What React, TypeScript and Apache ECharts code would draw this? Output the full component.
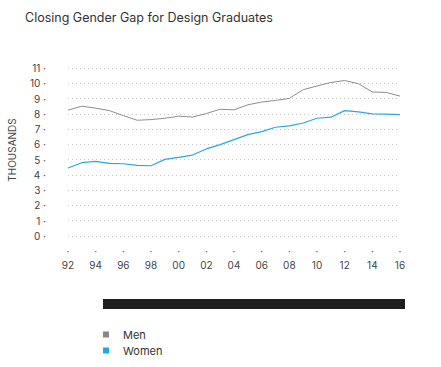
import React, { useEffect, useRef } from "react";
import * as echarts from "echarts";

const years = ["92","93","94","95","96","97","98","99","00","01","02","03","04","05","06","07","08","09","10","11","12","13","14","15","16"];
const men = [8.24, 8.5, 8.37, 8.21, 7.88, 7.58, 7.62, 7.71, 7.84, 7.79, 8.02, 8.3, 8.26, 8.59, 8.77, 8.88, 9.01, 9.58, 9.82, 10.05, 10.18, 9.97, 9.43, 9.4, 9.16];
const women = [4.45, 4.8, 4.89, 4.76, 4.73, 4.62, 4.6, 5.02, 5.15, 5.3, 5.7, 5.98, 6.31, 6.64, 6.83, 7.12, 7.21, 7.4, 7.71, 7.78, 8.21, 8.13, 8.0, 7.98, 7.95];
const seriesNames = ["Men", "Women"];
const title = "Closing Gender Gap for Design Graduates";
const yName = "THOUSANDS";

const FONT = "Inter, 'Noto Sans', sans-serif";

export default function App() {
  const ref = useRef<HTMLDivElement>(null);
  useEffect(() => {
    document.body.style.margin = "0";
    if (!ref.current) return;
    const chart = echarts.init(ref.current, undefined, { renderer: "svg" });
    chart.setOption({
      animation: false,
      backgroundColor: "#ffffff",
      textStyle: { fontFamily: FONT },
      title: {
        text: title,
        left: 25,
        top: 11,
        padding: 0,
        textStyle: { fontSize: 12.5, fontWeight: "normal", color: "#333", fontFamily: FONT },
      },
      grid: { left: 68, right: 41, top: 68, bottom: 131 },
      legend: {
        orient: "vertical",
        left: 103,
        top: 329,
        padding: 0,
        itemWidth: 6,
        itemHeight: 6,
        itemGap: 5,
        icon: "rect",
        data: seriesNames,
        textStyle: { fontSize: 11, color: "#333", fontFamily: FONT, padding: [0, 0, 0, 9] },
      },
      xAxis: {
        type: "category",
        data: years,
        boundaryGap: false,
        axisLine: { show: false },
        axisTick: { show: false },
        splitLine: { show: false },
        axisLabel: {
          interval: 1,
          margin: 8,
          formatter: (v: string) => `{d|·}\n{v|${v}}`,
          rich: {
            d: { fontSize: 10, color: "#555", lineHeight: 14, fontFamily: FONT },
            v: { fontSize: 10, color: "#444", lineHeight: 14, fontFamily: FONT },
          },
        },
      },
      yAxis: {
        type: "value",
        min: 0,
        max: 11,
        interval: 1,
        axisLine: { show: false },
        axisTick: { show: false },
        axisLabel: {
          margin: 22,
          fontSize: 10,
          color: "#444",
          fontFamily: FONT,
          formatter: (v: number) => `${v} ·`,
        },
        splitLine: { lineStyle: { color: "#c8c8c8", type: [1, 3], width: 1 } },
      },
      graphic: [
        {
          type: "text",
          x: 12,
          y: 150,
          rotation: Math.PI / 2,
          style: { text: yName, fontSize: 10, fill: "#444", fontFamily: FONT, align: "center", verticalAlign: "middle" },
        },
        {
          type: "rect",
          shape: { x: 103, y: 299, width: 302, height: 10 },
          style: { fill: "#1e1e1e" },
        },
      ],
      series: [
        {
          name: seriesNames[0],
          type: "line",
          data: men,
          symbol: "none",
          lineStyle: { color: "#8e8e8e", width: 1 },
          itemStyle: { color: "#888888" },
        },
        {
          name: seriesNames[1],
          type: "line",
          data: women,
          symbol: "none",
          lineStyle: { color: "#2aa8de", width: 1.2 },
          itemStyle: { color: "#1ba9e8" },
        },
      ],
    });
    return () => chart.dispose();
  }, []);
  return <div ref={ref} style={{ width: 441, height: 367 }} />;
}
